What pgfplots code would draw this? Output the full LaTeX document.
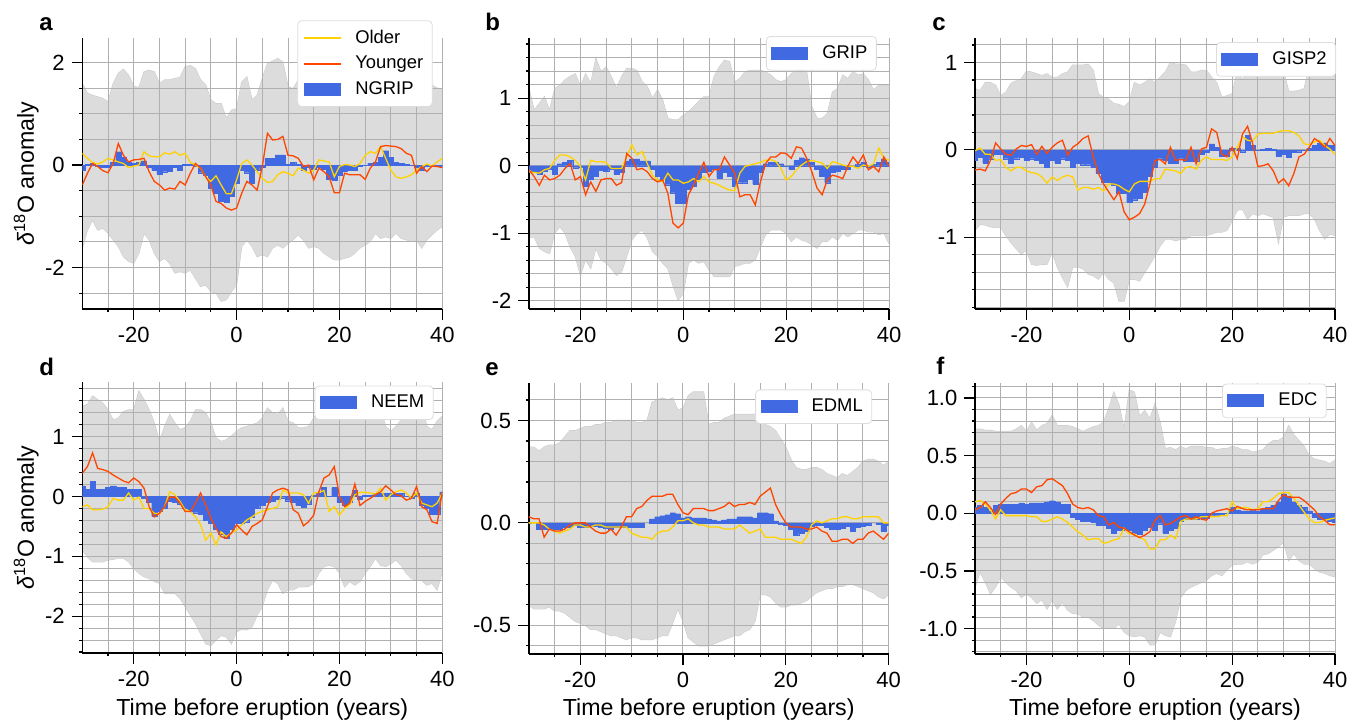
\documentclass[border=0pt]{standalone}
\usepackage{fontspec}
\setmainfont{Liberation Sans}
\usepackage{pgfplots}
\pgfplotsset{compat=1.18}
\usepackage{pgfplotstable}
\usepgfplotslibrary{fillbetween}

\definecolor{bandgray}{HTML}{DCDCDC}
\definecolor{bandedge}{HTML}{CCCCCC}
\definecolor{barblue}{HTML}{4169E1}
\definecolor{oldyel}{HTML}{FFD200}
\definecolor{younred}{HTML}{FF4500}
\definecolor{gridgray}{HTML}{B0B0B0}
\definecolor{legframe}{HTML}{DDDDDD}

% t: years, bar: core anomaly, old/young: eruption groups, lo/hi: spread
\pgfplotstableread{
t bar old young lo hi
-30 -0.10 0.23 -0.39 -1.62 1.59
-29 0.02 0.13 -0.16 -1.27 1.40
-28 0.03 0.05 0.03 -1.07 1.36
-27 -0.03 0.02 -0.03 -1.27 1.33
-26 -0.05 0.06 -0.11 -1.23 1.30
-25 -0.05 0.13 -0.15 -1.33 1.23
-24 0.05 0.10 0.03 -1.46 1.59
-23 0.26 0.06 0.42 -1.59 1.79
-22 0.15 0.03 0.19 -1.79 1.87
-21 0.05 -0.05 0.06 -1.88 1.75
-20 0.03 -0.02 0.10 -1.92 1.54
-19 0.05 0.00 0.11 -1.72 1.51
-18 0.08 0.26 0.13 -1.33 1.82
-17 -0.05 0.18 -0.13 -1.46 1.85
-16 -0.10 0.16 -0.32 -1.72 1.82
-15 -0.18 0.16 -0.39 -1.88 1.59
-14 -0.13 0.24 -0.49 -1.82 1.66
-13 -0.12 0.21 -0.45 -1.92 1.66
-12 -0.05 0.26 -0.47 -2.11 1.69
-11 -0.10 0.19 -0.32 -2.08 1.71
-10 0.02 0.23 -0.39 -2.11 1.92
-9 0.02 0.05 -0.16 -2.05 1.94
-8 -0.02 0.00 0.03 -2.21 1.88
-7 -0.15 -0.06 -0.06 -2.37 1.66
-6 -0.20 -0.23 -0.23 -2.34 1.56
-5 -0.45 -0.32 -0.39 -2.47 1.27
-4 -0.55 -0.21 -0.71 -2.50 1.20
-3 -0.70 -0.39 -0.75 -2.66 1.20
-2 -0.72 -0.56 -0.84 -2.63 0.91
-1 -0.60 -0.56 -0.88 -2.47 1.07
0 -0.35 -0.29 -0.84 -2.34 1.10
1 -0.10 0.03 -0.55 -1.59 1.62
2 -0.15 0.10 -0.32 -1.46 1.72
3 -0.35 0.00 -0.39 -1.59 1.27
4 -0.10 -0.13 -0.49 -1.79 1.36
5 -0.05 -0.26 -0.03 -1.75 1.69
6 0.13 -0.34 0.62 -1.79 1.98
7 0.13 -0.32 0.49 -1.62 2.03
8 0.20 -0.19 0.50 -1.56 2.08
9 0.20 -0.13 0.56 -1.62 2.01
10 0.02 -0.16 0.19 -1.53 1.53
11 0.05 -0.21 0.18 -1.46 1.49
12 0.02 -0.06 0.13 -1.36 1.66
13 -0.10 -0.10 -0.03 -1.46 1.85
14 -0.05 -0.16 0.00 -1.62 1.80
15 -0.08 -0.10 -0.29 -1.59 1.69
16 -0.05 0.10 -0.06 -1.62 1.75
17 -0.08 0.08 -0.13 -1.72 1.80
18 -0.28 0.06 -0.23 -1.79 1.70
19 -0.30 -0.23 -0.54 -1.85 1.60
20 -0.20 -0.03 -0.54 -1.85 1.65
21 -0.12 0.01 -0.16 -1.82 1.70
22 -0.10 0.00 -0.19 -1.79 1.75
23 -0.10 -0.03 -0.19 -1.72 1.80
24 -0.02 0.03 -0.19 -1.62 1.70
25 0.00 0.19 -0.28 -1.56 1.65
26 0.03 0.26 -0.06 -1.49 1.60
27 0.05 0.23 0.06 -1.33 1.55
28 0.15 0.36 0.36 -1.43 1.50
29 0.28 0.13 0.38 -1.40 1.45
30 0.15 -0.10 0.37 -1.43 1.40
31 0.05 -0.23 0.36 -1.33 1.35
32 0.03 -0.26 0.32 -1.43 1.25
33 0.02 -0.23 0.23 -1.46 1.20
34 0.00 -0.19 0.19 -1.49 1.18
35 -0.05 -0.10 -0.16 -1.46 1.17
36 -0.10 -0.03 -0.03 -1.62 1.20
37 -0.03 0.02 -0.13 -1.46 1.40
38 -0.03 -0.02 -0.02 -1.36 1.56
39 -0.02 0.06 -0.03 -1.27 1.50
40 -0.02 0.13 -0.05 -1.20 1.49
}\ngrip

\pgfplotstableread{
t bar old young lo hi
-30 -0.05 -0.09 -0.06 -1.07 1.14
-29 -0.08 -0.10 -0.16 -1.05 0.82
-28 -0.12 -0.11 -0.29 -1.22 0.92
-27 -0.08 -0.06 -0.14 -1.27 1.02
-26 -0.05 -0.04 -0.21 -1.30 0.82
-25 -0.13 0.08 -0.19 -1.00 1.14
-24 0.03 0.16 -0.14 -0.90 1.19
-23 0.05 0.16 -0.04 -1.00 1.27
-22 0.08 0.13 0.03 -1.20 1.32
-21 -0.03 0.08 -0.21 -1.34 1.36
-20 -0.02 -0.01 -0.16 -1.62 1.17
-19 -0.30 -0.21 -0.43 -1.39 1.36
-18 -0.20 0.08 -0.24 -1.52 1.22
-17 -0.15 0.06 -0.38 -1.22 1.59
-16 -0.07 0.06 -0.21 -1.39 1.39
-15 -0.08 0.05 -0.19 -1.44 1.46
-14 -0.05 -0.04 -0.19 -1.52 1.32
-13 -0.13 -0.04 -0.29 -1.62 1.14
-12 -0.10 -0.04 -0.25 -1.57 1.32
-11 0.07 0.13 0.18 -1.34 1.44
-10 0.10 0.31 0.11 -1.10 1.44
-9 0.10 0.16 -0.06 -1.00 1.41
-8 0.07 0.21 -0.04 -0.95 1.24
-7 0.07 0.03 -0.09 -1.07 1.17
-6 -0.05 -0.14 -0.19 -1.27 1.00
-5 -0.15 -0.21 -0.24 -1.34 1.12
-4 -0.20 -0.24 -0.21 -1.44 0.97
-3 -0.28 -0.11 -0.41 -1.52 0.70
-2 -0.40 -0.21 -0.85 -1.77 0.68
-1 -0.55 -0.21 -0.92 -1.99 0.68
0 -0.55 -0.26 -0.85 -1.89 0.75
1 -0.35 -0.24 -0.43 -1.44 0.80
2 -0.30 -0.19 -0.29 -1.39 0.87
3 -0.20 -0.24 -0.11 -1.44 0.95
4 -0.10 -0.16 0.05 -1.42 1.02
5 -0.08 -0.24 -0.16 -1.54 1.02
6 -0.05 -0.26 -0.06 -1.64 1.32
7 -0.18 -0.29 -0.06 -1.64 1.46
8 -0.10 -0.33 0.13 -1.64 1.56
9 -0.15 -0.36 0.01 -1.64 1.54
10 -0.30 -0.37 -0.11 -1.49 1.24
11 -0.25 -0.11 -0.46 -1.47 1.29
12 -0.25 -0.01 -0.43 -1.44 1.39
13 -0.20 0.01 -0.43 -1.44 1.41
14 -0.27 0.03 -0.58 -1.39 1.41
15 -0.10 0.05 -0.24 -1.20 1.41
16 0.03 0.08 0.03 -1.02 1.39
17 0.05 0.09 0.13 -0.95 1.34
18 0.05 0.06 0.13 -0.95 1.27
19 0.03 -0.04 0.19 -0.95 1.24
20 0.00 -0.21 0.18 -1.00 1.27
21 -0.05 -0.16 0.11 -1.12 1.36
22 0.08 -0.06 0.28 -1.05 1.41
23 0.12 0.01 0.26 -1.10 1.41
24 0.10 0.06 0.11 -1.12 1.39
25 0.05 0.08 -0.09 -1.17 0.87
26 -0.05 0.06 -0.33 -1.22 0.70
27 -0.15 0.04 -0.43 -1.12 0.70
28 -0.25 -0.04 -0.21 -1.12 0.77
29 -0.10 0.06 -0.14 -1.05 1.09
30 -0.08 0.04 -0.16 -1.10 1.14
31 -0.05 0.01 -0.19 -1.00 1.34
32 -0.05 -0.01 -0.01 -1.05 1.29
33 0.00 -0.01 0.13 -1.00 1.39
34 0.02 -0.04 0.03 -0.95 1.34
35 0.05 0.01 0.16 -0.95 1.36
36 -0.02 -0.01 -0.06 -0.98 1.27
37 0.02 0.03 -0.01 -0.98 1.12
38 0.05 0.26 -0.09 -1.02 1.19
39 0.10 0.11 0.13 -1.00 1.19
40 0.05 0.08 -0.01 -1.15 1.18
}\grip

\pgfplotstableread{
t bar old young lo hi
-30 -0.12 -0.01 -0.23 -0.92 0.70
-29 -0.08 0.02 -0.22 -0.85 0.68
-28 -0.15 -0.05 -0.24 -0.86 0.77
-27 -0.10 -0.05 -0.12 -0.88 0.77
-26 -0.05 -0.12 0.08 -0.89 0.74
-25 -0.05 -0.11 0.01 -0.89 0.62
-24 -0.10 -0.20 -0.05 -0.98 0.66
-23 -0.15 -0.24 -0.06 -1.06 0.76
-22 -0.10 -0.20 0.01 -1.13 0.79
-21 -0.08 -0.20 0.05 -1.19 0.81
-20 -0.12 -0.24 0.04 -1.15 0.90
-19 -0.10 -0.26 0.06 -1.31 0.89
-18 -0.12 -0.27 -0.05 -1.32 0.87
-17 -0.15 -0.31 0.04 -1.31 0.85
-16 -0.20 -0.38 -0.04 -1.31 0.87
-15 -0.12 -0.31 0.03 -1.17 0.83
-14 -0.15 -0.35 0.08 -1.34 0.83
-13 -0.10 -0.31 0.11 -1.46 0.87
-12 -0.12 -0.29 -0.06 -1.57 0.89
-11 -0.20 -0.31 0.03 -1.34 0.97
-10 -0.15 -0.46 0.07 -1.34 0.97
-9 -0.17 -0.43 0.13 -1.36 0.97
-8 -0.17 -0.43 0.16 -1.42 0.98
-7 -0.20 -0.45 -0.08 -1.44 0.91
-6 -0.27 -0.43 -0.27 -1.48 0.64
-5 -0.37 -0.47 -0.39 -1.40 0.60
-4 -0.37 -0.39 -0.48 -1.48 0.58
-3 -0.40 -0.39 -0.57 -1.52 0.53
-2 -0.50 -0.41 -0.48 -1.73 0.52
-1 -0.50 -0.45 -0.71 -1.73 0.49
0 -0.60 -0.48 -0.80 -1.48 0.55
1 -0.57 -0.39 -0.77 -1.48 0.77
2 -0.55 -0.36 -0.73 -1.50 0.74
3 -0.48 -0.36 -0.62 -1.40 0.77
4 -0.30 -0.36 -0.39 -1.31 0.81
5 -0.20 -0.33 -0.12 -1.21 0.77
6 -0.10 -0.33 -0.11 -1.10 0.83
7 -0.12 -0.22 -0.16 -1.02 0.89
8 -0.15 -0.23 0.03 -1.02 1.00
9 -0.15 -0.24 -0.12 -1.04 0.98
10 -0.10 -0.27 -0.11 -1.02 0.98
11 -0.13 -0.20 -0.12 -1.02 0.97
12 -0.13 -0.19 0.03 -0.98 0.89
13 -0.13 -0.22 -0.16 -0.98 0.89
14 -0.05 -0.12 0.01 -0.98 0.91
15 -0.03 -0.08 0.03 -0.98 0.91
16 0.07 -0.11 0.24 -0.96 0.83
17 0.03 -0.11 0.20 -0.94 0.77
18 -0.07 -0.11 -0.05 -0.94 0.60
19 -0.07 -0.12 -0.08 -0.92 0.62
20 0.02 -0.08 0.03 -0.81 0.64
21 0.02 0.03 -0.10 -0.69 0.90
22 -0.02 0.15 0.18 -0.68 0.80
23 0.17 0.11 0.27 -0.79 0.90
24 0.05 0.10 0.07 -0.73 0.85
25 0.00 0.18 -0.19 -0.75 0.90
26 0.01 0.19 -0.18 -0.73 0.95
27 0.02 0.19 -0.16 -0.75 0.95
28 0.01 0.19 -0.24 -0.77 0.95
29 -0.07 0.21 -0.38 -1.06 0.95
30 -0.05 0.22 -0.33 -0.77 0.90
31 -0.08 0.22 -0.41 -0.75 0.67
32 -0.03 0.20 -0.27 -0.75 0.67
33 -0.02 0.16 -0.08 -0.75 0.68
34 0.00 0.07 -0.05 -0.73 0.70
35 0.02 0.06 0.03 -0.73 0.95
36 0.05 0.09 0.13 -0.79 1.05
37 0.08 0.11 0.09 -0.92 1.05
38 0.08 0.05 0.03 -1.02 1.00
39 0.05 0.01 0.13 -0.96 1.00
40 0.05 -0.05 0.05 -0.98 1.00
}\gisp

\pgfplotstableread{
t bar old young lo hi
-30 0.18 -0.17 0.39 -0.89 1.51
-29 0.12 -0.14 0.50 -1.01 1.54
-28 0.25 -0.22 0.73 -1.09 1.68
-27 0.12 -0.22 0.47 -1.09 1.62
-26 0.12 -0.21 0.45 -1.09 1.56
-25 0.15 -0.17 0.42 -1.06 1.45
-24 0.18 -0.03 0.36 -1.05 1.28
-23 0.15 -0.06 0.31 -1.03 1.31
-22 0.15 -0.06 0.26 -1.03 1.42
-21 0.12 0.06 0.23 -1.09 1.45
-20 0.12 -0.06 0.31 -1.20 1.45
-19 0.12 -0.01 0.25 -1.28 1.76
-18 -0.03 -0.20 0.14 -1.34 1.62
-17 -0.10 -0.20 -0.17 -1.37 1.45
-16 -0.33 -0.28 -0.34 -1.42 1.23
-15 -0.25 -0.29 -0.28 -1.45 0.92
-14 -0.20 -0.17 -0.17 -1.62 1.17
-13 -0.08 0.08 -0.01 -1.62 1.37
-12 -0.10 0.03 -0.01 -1.62 1.23
-11 -0.12 -0.08 -0.11 -1.70 1.12
-10 -0.20 -0.22 -0.25 -1.84 1.15
-9 -0.25 -0.25 -0.25 -1.98 1.26
-8 -0.27 -0.34 -0.11 -2.12 1.45
-7 -0.30 -0.47 0.06 -2.29 1.45
-6 -0.40 -0.73 -0.14 -2.46 1.40
-5 -0.45 -0.61 -0.36 -2.49 1.23
-4 -0.55 -0.81 -0.53 -2.40 0.98
-3 -0.62 -0.59 -0.67 -2.32 0.92
-2 -0.70 -0.67 -0.70 -2.35 0.95
-1 -0.55 -0.61 -0.61 -2.46 1.01
0 -0.45 -0.56 -0.47 -2.26 1.09
1 -0.45 -0.47 -0.56 -2.22 1.15
2 -0.42 -0.39 -0.64 -2.23 1.17
3 -0.35 -0.34 -0.50 -2.18 1.20
4 -0.20 -0.28 -0.45 -1.98 1.23
5 -0.15 -0.25 -0.39 -1.84 1.31
6 -0.10 -0.22 -0.17 -1.56 1.48
7 -0.08 -0.20 0.06 -1.40 1.40
8 -0.05 -0.17 0.11 -1.45 1.37
9 -0.02 0.11 0.14 -1.62 1.48
10 -0.07 0.06 0.11 -1.56 1.26
11 -0.10 0.06 -0.22 -1.56 1.23
12 -0.15 0.06 -0.28 -1.51 1.15
13 -0.18 0.03 -0.49 -1.51 1.15
14 -0.12 -0.11 -0.42 -1.50 1.17
15 0.03 0.06 -0.31 -1.45 1.31
16 0.05 0.07 0.08 -1.28 1.45
17 0.15 0.10 0.31 -1.17 1.40
18 0.00 -0.25 0.36 -1.15 1.45
19 0.15 -0.17 0.50 -1.17 1.48
20 -0.10 -0.31 0.00 -1.28 1.45
21 -0.15 -0.20 -0.17 -1.51 1.31
22 -0.10 -0.14 -0.11 -1.42 1.37
23 0.10 0.03 0.21 -1.48 1.45
24 -0.05 0.07 -0.15 -1.42 1.34
25 0.02 0.07 -0.08 -1.28 1.28
26 0.02 0.06 -0.03 -1.17 1.34
27 0.05 0.04 0.03 -1.03 1.48
28 0.05 0.14 0.08 -1.15 1.45
29 0.05 -0.06 0.18 -1.17 1.17
30 0.05 0.03 0.11 -1.12 1.09
31 0.05 0.08 0.03 -1.06 1.17
32 0.05 0.11 0.01 -1.15 1.28
33 0.00 0.06 -0.06 -1.28 1.40
34 -0.03 -0.03 -0.03 -1.37 1.45
35 0.05 0.06 0.17 -1.40 1.40
36 -0.15 -0.11 -0.17 -1.40 1.56
37 -0.20 -0.14 -0.22 -1.48 1.17
38 -0.30 -0.17 -0.42 -1.45 1.12
39 -0.30 -0.11 -0.45 -1.56 1.26
40 0.08 0.06 0.08 -1.26 1.34
}\neem

\pgfplotstableread{
t bar old young lo hi
-30 0.005 0.00 0.03 -0.40 0.37
-29 0.000 0.00 0.02 -0.42 0.37
-28 -0.030 0.00 0.02 -0.42 0.35
-27 -0.030 -0.01 -0.07 -0.42 0.37
-26 -0.030 -0.03 -0.03 -0.41 0.38
-25 -0.030 -0.04 -0.04 -0.43 0.38
-24 -0.030 -0.05 -0.04 -0.43 0.39
-23 -0.020 -0.04 -0.03 -0.44 0.42
-22 -0.020 -0.03 -0.01 -0.46 0.45
-21 -0.010 -0.01 0.00 -0.48 0.45
-20 -0.020 -0.01 0.00 -0.49 0.46
-19 -0.020 -0.02 0.00 -0.50 0.47
-18 -0.015 -0.02 -0.02 -0.52 0.47
-17 -0.015 -0.01 -0.04 -0.52 0.48
-16 -0.020 -0.01 -0.05 -0.53 0.48
-15 -0.025 -0.02 -0.05 -0.54 0.49
-14 -0.030 -0.02 -0.03 -0.55 0.49
-13 -0.020 -0.02 -0.06 -0.55 0.50
-12 -0.020 -0.02 -0.02 -0.56 0.50
-11 -0.020 -0.02 0.03 -0.57 0.50
-10 -0.020 -0.05 0.03 -0.56 0.50
-9 -0.020 -0.06 0.07 -0.56 0.49
-8 -0.020 -0.07 0.08 -0.57 0.49
-7 0.000 -0.07 0.11 -0.57 0.50
-6 0.020 -0.08 0.13 -0.57 0.59
-5 0.030 -0.05 0.13 -0.56 0.60
-4 0.035 -0.04 0.13 -0.55 0.61
-3 0.040 -0.04 0.14 -0.55 0.60
-2 0.050 -0.02 0.14 -0.49 0.61
-1 0.045 0.01 0.09 -0.42 0.55
0 0.025 0.01 0.05 -0.48 0.56
1 0.030 0.02 0.04 -0.56 0.62
2 0.025 0.00 0.07 -0.58 0.64
3 0.025 -0.01 0.07 -0.60 0.64
4 0.025 -0.01 0.07 -0.60 0.64
5 0.020 -0.02 0.06 -0.60 0.48
6 0.015 -0.02 0.06 -0.59 0.49
7 0.010 -0.02 0.07 -0.58 0.49
8 0.015 -0.03 0.08 -0.57 0.51
9 0.020 -0.03 0.10 -0.56 0.52
10 0.020 -0.03 0.08 -0.55 0.53
11 0.030 -0.01 0.09 -0.55 0.53
12 0.030 -0.03 0.09 -0.53 0.53
13 0.030 -0.05 0.10 -0.52 0.53
14 0.025 -0.04 0.09 -0.48 0.53
15 0.050 -0.03 0.13 -0.35 0.50
16 0.050 -0.07 0.15 -0.35 0.48
17 0.045 -0.07 0.17 -0.36 0.47
18 0.010 -0.07 0.09 -0.39 0.45
19 -0.005 -0.08 0.04 -0.41 0.41
20 -0.010 -0.08 0.00 -0.41 0.37
21 -0.030 -0.08 -0.02 -0.40 0.31
22 -0.060 -0.09 -0.02 -0.40 0.27
23 -0.050 -0.10 -0.02 -0.39 0.26
24 -0.040 -0.07 -0.03 -0.38 0.26
25 -0.015 -0.01 -0.03 -0.36 0.27
26 -0.010 0.01 -0.02 -0.34 0.27
27 -0.010 0.00 -0.04 -0.33 0.26
28 -0.020 0.01 -0.05 -0.32 0.24
29 -0.030 0.02 -0.09 -0.32 0.23
30 -0.030 0.02 -0.09 -0.31 0.22
31 -0.025 0.03 -0.08 -0.31 0.24
32 -0.015 0.03 -0.08 -0.30 0.23
33 -0.040 0.02 -0.10 -0.30 0.25
34 -0.020 0.02 -0.08 -0.31 0.27
35 -0.015 0.03 -0.08 -0.32 0.30
36 -0.010 0.03 -0.05 -0.33 0.31
37 0.000 0.03 -0.04 -0.34 0.31
38 -0.005 0.03 -0.06 -0.36 0.30
39 -0.040 0.00 -0.08 -0.37 0.28
40 -0.010 0.00 -0.05 -0.35 0.30
}\edml

\pgfplotstableread{
t bar old young lo hi
-30 0.05 0.10 0.03 -0.64 0.73
-29 0.07 0.11 0.05 -0.51 0.73
-28 0.05 0.08 0.10 -0.60 0.72
-27 0.02 0.03 0.05 -0.70 0.72
-26 0.07 -0.05 -0.01 -0.64 0.71
-25 0.08 0.03 0.08 -0.55 0.71
-24 0.08 -0.02 0.13 -0.60 0.71
-23 0.08 -0.02 0.17 -0.64 0.71
-22 0.08 -0.02 0.18 -0.67 0.73
-21 0.09 -0.02 0.21 -0.73 0.76
-20 0.08 -0.02 0.21 -0.70 0.71
-19 0.09 -0.03 0.18 -0.73 0.79
-18 0.09 -0.03 0.23 -0.78 0.72
-17 0.09 -0.07 0.24 -0.75 0.76
-16 0.10 -0.07 0.29 -0.83 0.78
-15 0.11 -0.05 0.30 -0.75 0.85
-14 0.10 -0.03 0.27 -0.83 0.76
-13 0.08 -0.05 0.24 -0.77 0.76
-12 0.08 -0.08 0.17 -0.84 0.76
-11 -0.03 -0.12 0.08 -0.87 0.75
-10 -0.05 -0.16 0.05 -0.87 0.73
-9 -0.07 -0.19 0.04 -0.90 0.71
-8 -0.07 -0.23 0.05 -0.90 0.73
-7 -0.08 -0.22 0.03 -0.93 0.75
-6 -0.10 -0.22 -0.02 -0.97 0.76
-5 -0.10 -0.26 -0.03 -1.00 0.79
-4 -0.13 -0.25 -0.10 -0.99 0.91
-3 -0.17 -0.23 -0.08 -1.00 1.05
-2 -0.15 -0.22 -0.12 -0.96 0.94
-1 -0.15 -0.13 -0.13 -1.03 0.73
0 -0.15 -0.18 -0.16 -1.06 1.07
1 -0.17 -0.18 -0.19 -1.07 1.05
2 -0.18 -0.21 -0.21 -1.06 0.84
3 -0.15 -0.23 -0.19 -1.07 0.89
4 -0.12 -0.31 -0.16 -1.14 0.82
5 -0.15 -0.31 -0.06 -1.14 0.95
6 -0.09 -0.23 -0.02 -1.03 0.79
7 -0.17 -0.23 -0.10 -1.06 0.56
8 -0.15 -0.19 -0.09 -1.07 0.57
9 -0.13 -0.22 -0.06 -0.94 0.55
10 -0.07 -0.07 -0.03 -0.73 0.58
11 -0.05 -0.05 -0.02 -0.67 0.56
12 -0.05 -0.05 -0.05 -0.64 0.58
13 -0.05 -0.05 -0.03 -0.62 0.58
14 -0.04 -0.03 -0.05 -0.60 0.58
15 -0.04 -0.03 -0.06 -0.58 0.57
16 -0.02 -0.03 0.00 -0.54 0.57
17 -0.02 -0.03 0.02 -0.52 0.55
18 -0.01 -0.02 0.03 -0.54 0.56
19 0.00 -0.02 0.04 -0.49 0.56
20 0.05 0.10 0.02 -0.45 0.58
21 0.03 0.04 0.06 -0.44 0.57
22 0.02 0.05 0.04 -0.44 0.55
23 0.02 0.05 0.03 -0.42 0.55
24 0.03 0.03 0.03 -0.44 0.53
25 0.02 0.04 0.03 -0.42 0.54
26 0.04 0.10 0.04 -0.36 0.55
27 0.05 0.10 0.04 -0.35 0.60
28 0.07 0.13 0.04 -0.32 0.63
29 0.10 0.17 0.11 -0.29 0.63
30 0.17 0.18 0.16 -0.25 0.66
31 0.15 0.18 0.14 -0.41 0.76
32 0.10 0.13 0.14 -0.35 0.68
33 0.07 0.07 0.14 -0.41 0.63
34 0.05 0.01 0.11 -0.44 0.58
35 0.02 -0.05 0.07 -0.44 0.50
36 -0.03 -0.08 0.03 -0.48 0.47
37 -0.05 -0.08 -0.03 -0.51 0.46
38 -0.05 -0.06 -0.06 -0.52 0.45
39 -0.07 -0.05 -0.10 -0.54 0.43
40 -0.08 -0.04 -0.10 -0.55 0.46
}\edc

\pgfplotsset{
  panel/.style={
    scale only axis, width=180pt, height=135.5pt,
    xmin=-30, xmax=40,
    xtick={-20,0,20,40},
    minor xtick={-25,-15,-10,-5,5,10,15,25,30,35},
    axis x line*=bottom, axis y line*=left,
    axis line style={black, line width=0.8pt},
    tick align=outside,
    major tick length=5.3pt, minor tick length=1.6pt,
    tick style={black, line width=0.6pt},
    grid=both,
    grid style={gridgray, line width=0.5pt},
    set layers,
    tick label style={font=\fontsize{11}{13}\selectfont},
    /pgf/number format/assume math mode=true,
    label style={font=\fontsize{11.6}{13}\selectfont},
    xlabel style={at={(axis description cs:0.5,-0.206)}, anchor=center},
    ylabel style={at={(axis description cs:-0.156,0.5)}, anchor=center},
    legend cell align=left,
    legend style={draw=legframe, rounded corners=2pt, fill=white,
      font=\fontsize{9.2}{10.6}\selectfont, inner sep=2.5pt,
      row sep=1pt, /tikz/every odd column/.append style={column sep=5pt}},
  },
  band/.style={bandedge, line width=0.5pt, on layer=axis background, forget plot},
  bars/.style={ybar, bar width=1, fill=barblue, draw=barblue, line width=0.1pt, forget plot},
  older/.style={oldyel, line width=0.65pt, forget plot},
  younger/.style={younred, line width=0.65pt, forget plot},
  patchleg/.style={legend image code/.code={\path[sharp corners, draw=none, fill=barblue] (0pt,-3.2pt) rectangle (18.5pt,3.2pt);}},
  oldleg/.style={legend image code/.code={\path[sharp corners, draw=oldyel, line width=0.8pt] (0pt,0pt) -- (18.5pt,0pt);}},
  youngleg/.style={legend image code/.code={\path[sharp corners, draw=younred, line width=0.8pt] (0pt,0pt) -- (18.5pt,0pt);}},
}

\newcommand{\drawpanel}[1]{%
  \addplot[band, name path=hi] table[x=t,y=hi]{#1};
  \addplot[band, name path=lo] table[x=t,y=lo]{#1};
  \addplot[bandgray, forget plot] fill between[of=hi and lo, on layer=axis background];
  \addplot[bars] table[x=t,y=bar]{#1};
  \addplot[older] table[x=t,y=old]{#1};
  \addplot[younger] table[x=t,y=young]{#1};
}

\begin{document}
\begin{tikzpicture}

% a: NGRIP
\begin{axis}[panel, at={(41.15pt,206pt)}, anchor=south west,
  ymin=-2.81, ymax=2.48, ytick={-2,0,2},
  minor ytick={-2.5,-1.5,-1,-0.5,0.5,1,1.5,2.5},
  ylabel={{\itshape δ}\textsuperscript{18}O anomaly},
  legend style={at={(0.973,1.065)}, anchor=north east}]
\addlegendimage{oldleg}
\addlegendentry{Older}
\addlegendimage{youngleg}
\addlegendentry{Younger}
\addlegendimage{patchleg}
\addlegendentry{NGRIP}
\drawpanel{\ngrip}
\end{axis}

% b: GRIP
\begin{axis}[panel, at={(264.5pt,206pt)}, anchor=south west,
  ymin=-2.12, ymax=1.89, ytick={-2,-1,0,1},
  minor ytick={-2,-1.8,-1.6,-1.4,-1.2,-0.8,-0.6,-0.4,-0.2,0.2,0.4,0.6,0.8,1.2,1.4,1.6,1.8},
  legend style={at={(0.966,1.007)}, anchor=north east}]
\addlegendimage{patchleg}
\addlegendentry{GRIP}
\drawpanel{\grip}
\end{axis}

% c: GISP2
\begin{axis}[panel, at={(487.5pt,206pt)}, anchor=south west,
  ymin=-1.82, ymax=1.28, ytick={-1,0,1},
  minor ytick={-1.8,-1.6,-1.4,-1.2,-0.8,-0.6,-0.4,-0.2,0.2,0.4,0.6,0.8,1.2},
  legend style={at={(1.003,0.985)}, anchor=north east}]
\addlegendimage{patchleg}
\addlegendentry{GISP2}
\drawpanel{\gisp}
\end{axis}

% d: NEEM
\begin{axis}[panel, at={(41.15pt,33.85pt)}, anchor=south west,
  ymin=-2.62, ymax=1.91, ytick={-2,-1,0,1},
  minor ytick={-2.6,-2.4,-2.2,-1.8,-1.6,-1.4,-1.2,-0.8,-0.6,-0.4,-0.2,0.2,0.4,0.6,0.8,1.2,1.4,1.6,1.8},
  ylabel={{\itshape δ}\textsuperscript{18}O anomaly},
  xlabel={Time before eruption (years)},
  legend style={at={(0.976,0.988)}, anchor=north east}]
\addlegendimage{patchleg}
\addlegendentry{NEEM}
\drawpanel{\neem}
\end{axis}

% e: EDML
\begin{axis}[panel, at={(264.35pt,33.5pt)}, anchor=south west,
  ymin=-0.64, ymax=0.683, ytick={-0.5,0,0.5},
  minor ytick={-0.6,-0.4,-0.3,-0.2,-0.1,0.1,0.2,0.3,0.4,0.6},
  yticklabel style={/pgf/number format/.cd, fixed, fixed zerofill, precision=1},
  xlabel={Time before eruption (years)},
  legend style={at={(0.954,0.976)}, anchor=north east}]
\addlegendimage{patchleg}
\addlegendentry{EDML}
\drawpanel{\edml}
\end{axis}

% f: EDC
\begin{axis}[panel, at={(487.5pt,33.5pt)}, anchor=south west,
  ymin=-1.22, ymax=1.13, ytick={-1,-0.5,0,0.5,1},
  minor ytick={-1.2,-1.1,-0.9,-0.8,-0.7,-0.6,-0.4,-0.3,-0.2,-0.1,0.1,0.2,0.3,0.4,0.6,0.7,0.8,0.9,1.1},
  yticklabel style={/pgf/number format/.cd, fixed, fixed zerofill, precision=1},
  xlabel={Time before eruption (years)},
  legend style={at={(0.977,0.998)}, anchor=north east}]
\addlegendimage{patchleg}
\addlegendentry{EDC}
\drawpanel{\edc}
\end{axis}

\begin{scope}[every node/.style={anchor=base west, inner sep=0pt, font=\fontsize{12}{14}\selectfont\bfseries}]
\node at (19.5pt,345pt) {a};
\node at (242.5pt,345pt) {b};
\node at (466pt,345pt) {c};
\node at (19.5pt,172.5pt) {d};
\node at (242.5pt,172.5pt) {e};
\node at (468pt,173pt) {f};
\end{scope}

\pgfresetboundingbox
\path[use as bounding box] (0,0) rectangle (675.5pt,360.5pt);
\end{tikzpicture}
\end{document}
